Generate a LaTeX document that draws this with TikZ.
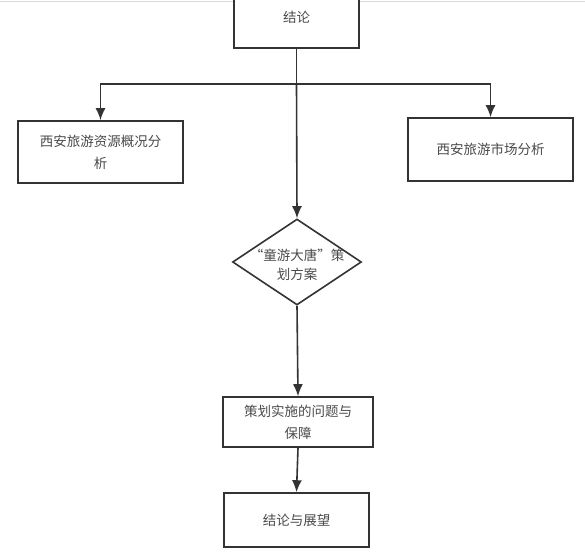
\documentclass[tikz,border=0pt]{standalone}
\usepackage{fontspec}
\setmainfont{Noto Sans CJK SC}
\usepackage{tikz}
\usepackage{xcolor}
\usetikzlibrary{shapes.geometric,arrows.meta}

\definecolor{linegray}{HTML}{333333}
\definecolor{textgray}{HTML}{4A4A4A}

% text that does not widen the shape round it
\newcommand{\flattext}[2]{\smash{\makebox[0pt]{\raisebox{-6pt}{\parbox{#1}{\centering\baselineskip=19pt #2}}}}}

\begin{document}
\begin{tikzpicture}[x=1pt, y=-1pt,
    box/.style={draw=linegray, line width=1.6pt, fill=white, inner sep=2pt,
        align=center, text=textgray, font=\fontsize{13.5}{22}\selectfont},
    choice/.style={box, diamond, inner sep=0pt},
    arr/.style={draw=linegray, line width=1.6pt, -{Latex[length=12pt,width=10pt]}}]
    \useasboundingbox (0,0) rectangle (585,559);
    \clip (0,0) rectangle (585,559);
    \fill[white] (0,0) rectangle (585,559);
    \draw[black!15, line width=0.8pt] (0,1.5) -- (585,1.5);

    \node[box, minimum width=125pt, minimum height=62pt] (top) at (296.5,17) {结论};
    \node[box, minimum width=165pt, minimum height=62pt] (res) at (100.5,152) {西安旅游资源概况分\\析};
    \node[box, minimum width=165pt, minimum height=63pt] (mkt) at (490.5,149.5) {西安旅游市场分析};
    \node[choice, minimum width=129pt, minimum height=86pt] (plan) at (297,262)
        {\flattext{120pt}{“童游大唐”策\\划方案}};
    \node[box, minimum width=150pt, minimum height=50pt] (issue) at (298,422) {策划实施的问题与\\保障};
    \node[box, minimum width=145pt, minimum height=54pt] (end) at (296.5,520) {结论与展望};

    \coordinate (split) at (296.5,84);

    \draw[draw=linegray, line width=1.6pt] (top.south) -- (split);
    \draw[arr] (split) -| (res.north);
    \draw[arr] (split) -| (mkt.north);
    \draw[arr] (split) -- (plan.north);
    \draw[arr] (plan.south) -- (issue.north);
    \draw[arr] (issue.south) -- (end.north);
\end{tikzpicture}
\end{document}
